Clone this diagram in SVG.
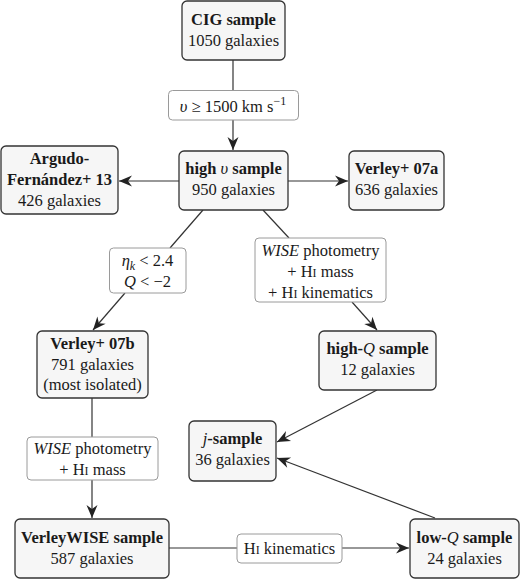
<svg xmlns="http://www.w3.org/2000/svg" width="520" height="579" viewBox="0 0 520 579">
<style>
.node rect{fill:#f6f6f6;stroke:#333;stroke-width:1.3}
.lab rect{fill:#fff;stroke:#9a9a9a;stroke-width:1}
text{font-family:"Liberation Serif",Tinos,"Times New Roman",Times,"Noto Serif","DejaVu Serif",FreeSerif,"Nimbus Roman",serif;font-size:16.5px;fill:#1a1a1a;text-anchor:middle}
.b{font-weight:bold}
.i{font-style:italic}
.sc{font-size:12px}
#edges line{stroke:#333;stroke-width:1.2}
</style>
<defs>
<marker id="ah" markerUnits="userSpaceOnUse" markerWidth="16" markerHeight="14" viewBox="-14 -7 16 14" refX="0" refY="0" orient="auto">
<path d="M0,0 L-13,-5.5 L-9,0 L-13,5.5 Z" fill="#222"/>
</marker>
</defs>
<g id="edges">
<line x1="233" y1="60" x2="233" y2="90"/>
<line x1="233" y1="120" x2="233" y2="150" marker-end="url(#ah)"/>
<line x1="179" y1="181" x2="119" y2="181" marker-end="url(#ah)"/>
<line x1="288" y1="181" x2="348" y2="181" marker-end="url(#ah)"/>
<line x1="203" y1="210" x2="170" y2="248"/>
<line x1="125" y1="293" x2="93" y2="330" marker-end="url(#ah)"/>
<line x1="263" y1="210" x2="289" y2="238"/>
<line x1="352" y1="302" x2="377" y2="330" marker-end="url(#ah)"/>
<line x1="377" y1="390" x2="277" y2="442" marker-end="url(#ah)"/>
<line x1="435" y1="518" x2="277" y2="458" marker-end="url(#ah)"/>
<line x1="92" y1="398" x2="92" y2="437"/>
<line x1="92" y1="480" x2="92" y2="518" marker-end="url(#ah)"/>
<line x1="169" y1="548" x2="237" y2="548"/>
<line x1="342" y1="548" x2="409" y2="548" marker-end="url(#ah)"/>
</g>
<g id="cig" class="node"><rect x="182" y="1" width="103" height="59" rx="5"/>
<text x="233.5" y="25" class="b">CIG sample</text><text x="233.5" y="46">1050 galaxies</text></g>
<g id="lab-v" class="lab"><rect x="168.5" y="90.5" width="130" height="29.5" rx="4"/>
<text x="233" y="112"><tspan class="i">υ</tspan> ≥ 1500 km s<tspan class="sc" dy="-7">−1</tspan></text></g>
<g id="highv" class="node"><rect x="179" y="151" width="109" height="59" rx="5"/>
<text x="233.5" y="174" class="b">high <tspan class="i" font-weight="normal">υ</tspan> sample</text><text x="233.5" y="195">950 galaxies</text></g>
<g id="argudo" class="node"><rect x="1" y="146" width="117" height="68" rx="5"/>
<text x="59.5" y="164" class="b">Argudo-</text><text x="59.5" y="185" class="b">Fernández+ 13</text><text x="59.5" y="206">426 galaxies</text></g>
<g id="verley07a" class="node"><rect x="349" y="151" width="95" height="59" rx="5"/>
<text x="396.5" y="174" class="b">Verley+ 07a</text><text x="396.5" y="195">636 galaxies</text></g>
<g id="lab-eta" class="lab"><rect x="109.5" y="248" width="76.5" height="45" rx="4"/>
<text x="147.5" y="266"><tspan class="i">η</tspan><tspan class="i sc" dy="4">k</tspan><tspan dy="-4"> &lt; 2.4</tspan></text>
<text x="147.5" y="287"><tspan class="i">Q</tspan> &lt; −2</text></g>
<g id="lab-wise1" class="lab"><rect x="255" y="238" width="131" height="64" rx="4"/>
<text x="320.5" y="256"><tspan class="i">WISE</tspan> photometry</text>
<text x="320.5" y="277">+ H<tspan class="sc">I</tspan> mass</text>
<text x="320.5" y="298">+ H<tspan class="sc">I</tspan> kinematics</text></g>
<g id="verley07b" class="node"><rect x="37" y="331" width="111" height="67" rx="5"/>
<text x="92.5" y="349" class="b">Verley+ 07b</text><text x="92.5" y="370">791 galaxies</text><text x="92.5" y="390">(most isolated)</text></g>
<g id="highq" class="node"><rect x="319" y="331" width="117" height="59" rx="5"/>
<text x="377.5" y="354" class="b">high-<tspan class="i" font-weight="normal">Q</tspan> sample</text><text x="377.5" y="375">12 galaxies</text></g>
<g id="jsample" class="node"><rect x="189" y="421" width="87" height="60" rx="5"/>
<text x="232.5" y="444" class="b"><tspan class="i" font-weight="normal">j</tspan>-sample</text><text x="232.5" y="465">36 galaxies</text></g>
<g id="lab-wise2" class="lab"><rect x="27" y="437" width="131" height="43" rx="4"/>
<text x="92.5" y="454"><tspan class="i">WISE</tspan> photometry</text>
<text x="92.5" y="475">+ H<tspan class="sc">I</tspan> mass</text></g>
<g id="verleywise" class="node"><rect x="15" y="519" width="154" height="59" rx="5"/>
<text x="92" y="543" class="b">VerleyWISE sample</text><text x="92" y="564">587 galaxies</text></g>
<g id="lab-hi" class="lab"><rect x="237" y="534" width="105" height="29" rx="4"/>
<text x="289.5" y="554">H<tspan class="sc">I</tspan> kinematics</text></g>
<g id="lowq" class="node"><rect x="410" y="519" width="109" height="59" rx="5"/>
<text x="464.5" y="543" class="b">low-<tspan class="i" font-weight="normal">Q</tspan> sample</text><text x="464.5" y="564">24 galaxies</text></g>
</svg>
